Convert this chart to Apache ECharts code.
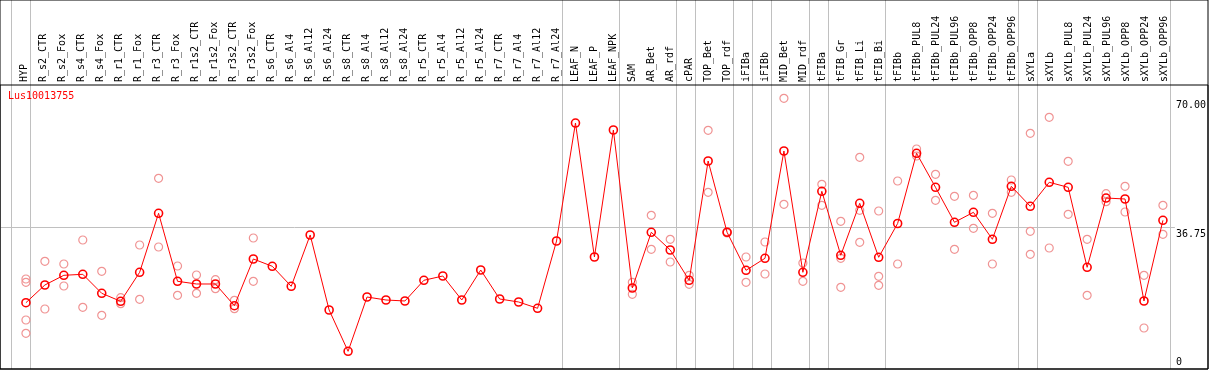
<!DOCTYPE html>
<html><head><meta charset="utf-8">
<script src="https://cdn.jsdelivr.net/npm/echarts@6/dist/echarts.min.js"></script>
<style>html,body{margin:0;padding:0;background:#fff}#c{width:1209px;height:370px}</style>
</head><body><div id="c"></div>
<script>
const chartTitle = 'Lus10013755';
const categories = ['HYP','R_s2_CTR','R_s2_Fox','R_s4_CTR','R_s4_Fox','R_r1_CTR','R_r1_Fox','R_r3_CTR','R_r3_Fox','R_r1s2_CTR','R_r1s2_Fox','R_r3s2_CTR','R_r3s2_Fox','R_s6_CTR','R_s6_Al4','R_s6_Al12','R_s6_Al24','R_s8_CTR','R_s8_Al4','R_s8_Al12','R_s8_Al24','R_r5_CTR','R_r5_Al4','R_r5_Al12','R_r5_Al24','R_r7_CTR','R_r7_Al4','R_r7_Al12','R_r7_Al24','LEAF_N','LEAF_P','LEAF_NPK','SAM','AR_Bet','AR_rdf','cPAR','TOP_Bet','TOP_rdf','iFIBa','iFIBb','MID_Bet','MID_rdf','tFIBa','tFIB_Gr','tFIB_Li','tFIB_Bi','tFIBb','tFIBb_PUL8','tFIBb_PUL24','tFIBb_PUL96','tFIBb_OPP8','tFIBb_OPP24','tFIBb_OPP96','sXYLa','sXYLb','sXYLb_PUL8','sXYLb_PUL24','sXYLb_PUL96','sXYLb_OPP8','sXYLb_OPP24','sXYLb_OPP96'];
const means = [17.16,21.74,24.25,24.51,19.59,17.52,25.03,40.30,22.70,22.00,22.00,16.38,28.47,26.58,21.40,34.68,15.27,4.58,18.63,17.86,17.60,22.96,24.07,17.86,25.62,18.12,17.34,15.71,33.13,63.66,28.99,61.85,20.96,35.38,30.80,22.96,53.83,35.38,25.54,28.65,56.42,25.03,45.99,29.43,42.88,28.91,37.66,55.82,47.02,37.97,40.55,33.57,47.28,42.11,48.32,47.02,26.32,44.25,44.00,17.60,38.48];
const replicates = [
 [23.29,22.44,12.68,9.24],[27.87,15.53],[27.17,21.48],[33.39,15.97],[25.28,13.90],[18.45,16.90],[32.09,18.04],[49.35,31.57],[26.66,19.07],[24.33,19.59],[23.11,20.78],[17.78,15.61],[33.90,22.70],
 [],[],[],[],[],[],[],[],[],[],[],[],[],[],[],[],[],[],[],
 [22.44,19.33],[39.78,30.98],[33.57,27.69],[24.25,21.92],[61.78,45.73],[35.53,35.20],[28.99,22.44],[32.87,24.59],[70.06,42.62],[27.43,22.70],
 [47.80,42.37],[38.22,28.65,21.14],[54.79,41.07,32.79],[40.89,23.99,21.66],[48.65,27.17],
 [56.94,55.12],[50.39,43.66],[44.69,30.98],[44.95,36.41],[40.30,27.17],[48.91,45.73],
 [61.00,35.64,29.68],[65.14,31.31],[53.75,40.04],[33.57,19.07],[45.37,43.30],[47.28,40.63],[24.25,10.61],[42.37,34.86]
];
const yTickLabels = [36.75, 70];
const yZeroLabel = [0];
const yMax = 73.5;
const separatorIndices = [0,1,29,32,35,36,38,39,40,42,43,46,53,54];

const MONO = 'DejaVu Sans Mono';
const xMin = -25/19, xMax = xMin + 1177/19;

const chart = echarts.init(document.getElementById('c'), null, {renderer:'canvas'});
chart.setOption({
  animation:false,
  backgroundColor:'#fff',
  title:{text:chartTitle,left:8,top:91,padding:0,textStyle:{color:'#ff0000',fontSize:10,fontFamily:MONO,fontWeight:'normal'}},
  grid:[
    {left:0,top:0,width:1208,height:369,show:true,borderColor:'#000',borderWidth:1,backgroundColor:'transparent',z:5},
    {left:0,top:85,width:1208,height:284,show:true,borderColor:'#000',borderWidth:1,backgroundColor:'transparent',z:5},
    {left:11,top:0,width:1159,height:369},
    {left:1,top:85,width:1177,height:284},
    {left:14.5,top:85,width:1159,height:284}
  ],
  xAxis:[
    {gridIndex:2,type:'category',data:categories,boundaryGap:true,axisLine:{show:false},axisTick:{show:false},axisLabel:{show:false},
     splitLine:{show:true,interval:function(i){return separatorIndices.indexOf(i)>=0;},lineStyle:{color:'#c0c0c0',width:1}}},
    {gridIndex:3,type:'value',min:xMin,max:xMax,show:false},
    {gridIndex:4,type:'category',data:categories,position:'top',boundaryGap:true,axisLine:{show:false},axisTick:{show:false},splitLine:{show:false},
     axisLabel:{interval:0,rotate:90,margin:3,fontSize:10,fontFamily:MONO,color:'#000'}}
  ],
  yAxis:[
    {gridIndex:2,type:'value',show:false},
    {gridIndex:3,type:'value',position:'right',min:0,max:yMax,interval:yMax/2,axisLine:{show:false},axisTick:{show:false},
     splitLine:{show:true,showMinLine:false,showMaxLine:false,lineStyle:{color:'#c0c0c0',width:1}},
     axisLabel:{customValues:yTickLabels,formatter:function(v){return Number(v).toFixed(2);},verticalAlign:'top',align:'left',margin:1,padding:[2,0,0,0],fontSize:10,fontFamily:MONO,color:'#000'}},
    {gridIndex:3,type:'value',position:'right',min:0,max:yMax,interval:yMax/2,axisLine:{show:false},axisTick:{show:false},splitLine:{show:false},
     axisLabel:{customValues:yZeroLabel,formatter:function(v){return String(v);},verticalAlign:'bottom',align:'left',margin:1,padding:[0,0,2,0],fontSize:10,fontFamily:MONO,color:'#000'}},
    {gridIndex:4,type:'value',show:false}
  ],
  series:[
    {type:'scatter',xAxisIndex:1,yAxisIndex:1,z:2,symbol:'circle',symbolSize:8,
     itemStyle:{color:'rgba(0,0,0,0)',borderColor:'#f09494',borderWidth:1.2,opacity:1},
     data:replicates.flatMap(function(a,i){return a.map(function(v){return [i,v];});})},
    {type:'line',xAxisIndex:1,yAxisIndex:1,z:3,symbol:'circle',symbolSize:8,showAllSymbol:true,
     lineStyle:{color:'#ff0000',width:1},
     itemStyle:{color:'rgba(0,0,0,0)',borderColor:'#ff0000',borderWidth:1.6},
     data:means.map(function(v,i){return [i,v];})}
  ]
});
</script></body></html>
